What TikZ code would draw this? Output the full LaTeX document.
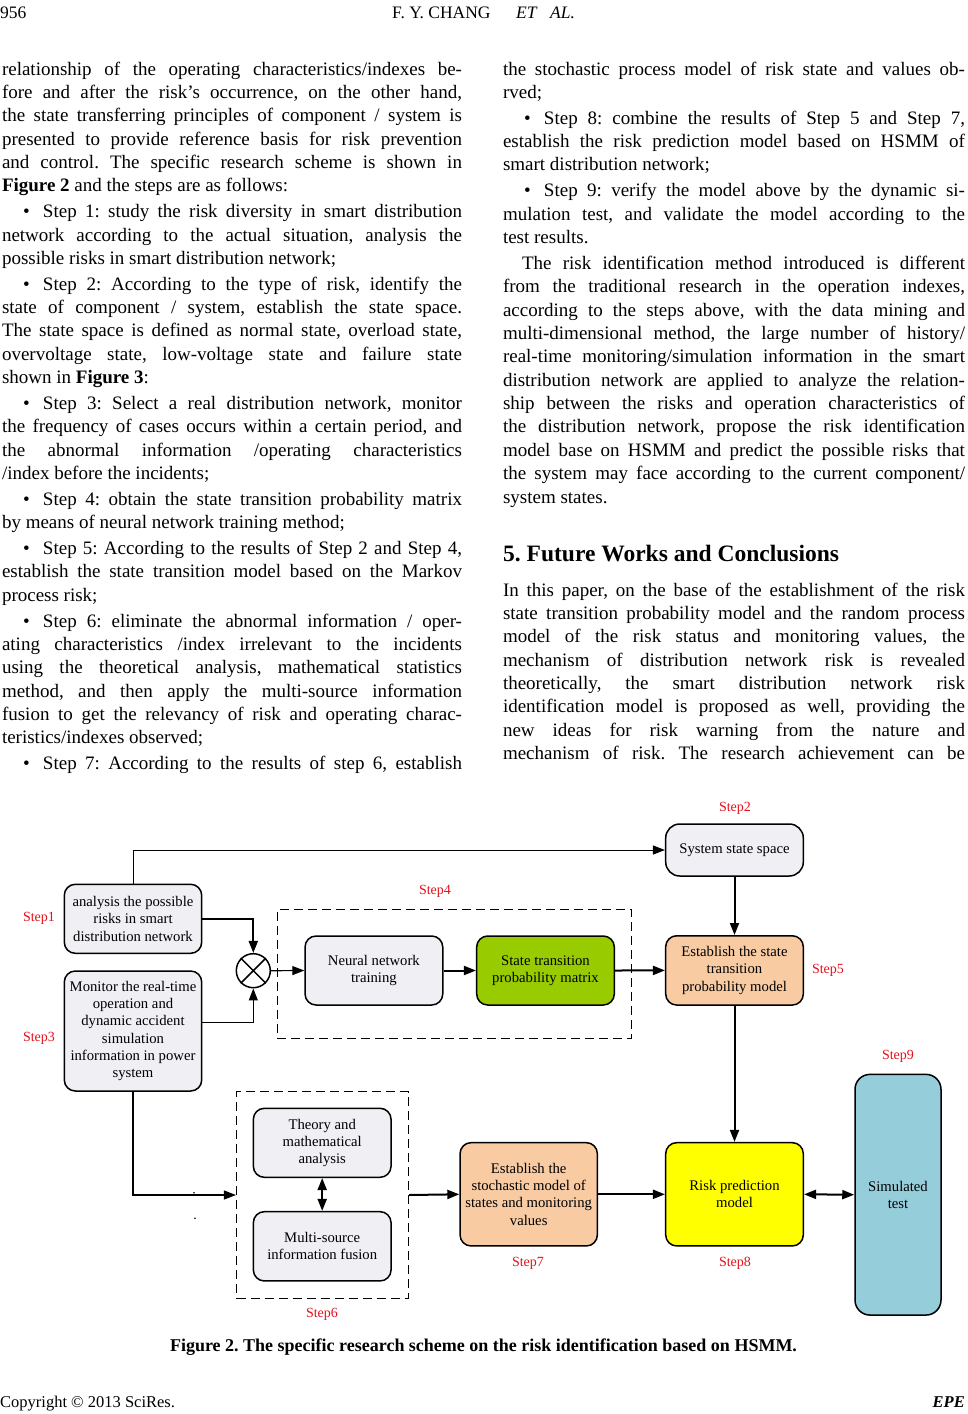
\documentclass[tikz,border=0pt]{standalone}
\usepackage{fontspec}
\setmainfont{Liberation Serif}
\usetikzlibrary{arrows.meta}
\definecolor{boxgray}{HTML}{EFEFF4}
\definecolor{peach}{HTML}{F8CBA3}
\definecolor{lime}{HTML}{99CC00}
\definecolor{yel}{HTML}{FFFF00}
\definecolor{skyb}{HTML}{96CDDB}
\definecolor{stepred}{HTML}{E3121C}
\frenchspacing
\newcounter{tl}
\newcommand\bodyfont{\fontsize{19}{22}\selectfont}
\newcommand\boxfont{\fontsize{14.7}{17.3}\selectfont}
% justified line: x, y, width, text
\newcommand\TJ[4]{\stepcounter{tl}\node[txt] (t\arabic{tl}) at (#1,#2) {\hbox to #3pt{#4}};}
% bullet line (justified)
\newcommand\TB[4]{\stepcounter{tl}\node[txt] (t\arabic{tl}) at (#1,#2) {\hbox to #3pt{\hbox to 41pt{\hskip 21pt\textbullet\hss}#4}};}
% indented justified line
\newcommand\TI[4]{\stepcounter{tl}\node[txt] (t\arabic{tl}) at (#1,#2) {\hbox to #3pt{\hskip 19pt #4}};}
% last (natural width) line: x, y, text
\newcommand\TL[3]{\stepcounter{tl}\node[txt] (t\arabic{tl}) at (#1,#2) {#3};}
\begin{document}
\begin{tikzpicture}[x=1pt,y=-1pt,
  txt/.style={anchor=base west,inner sep=0,outer sep=0,font=\bodyfont},
  bx/.style={draw,line width=1.5pt,rounded corners=11pt,align=center,font=\boxfont,inner sep=2pt},
  steplab/.style={text=stepred,font=\fontsize{14}{16}\selectfont,inner sep=0},
  dbox/.style={draw,line width=1.5pt,dash pattern=on 9pt off 5pt,inner sep=0},
  thk/.style={line width=2pt,-{Triangle[length=12pt,width=9pt]}},
  thn/.style={line width=1.2pt,-{Triangle[length=12pt,width=9pt]}},
  dbl/.style={line width=2pt,{Triangle[length=12pt,width=9pt]}-{Triangle[length=12pt,width=9pt]}}
]
\useasboundingbox (0,0) rectangle (967,1414);
\fill[white] (0,0) rectangle (967,1414);

% ---------- header ----------
\node[anchor=base west,inner sep=0,font=\fontsize{17.5}{20}\selectfont] (pg) at (0,18) {956};
\node[anchor=base west,inner sep=0,font=\fontsize{17.5}{20}\selectfont] (au) at (392,18) {F. Y. CHANG};
\node[anchor=base west,inner sep=0,font=\fontsize{17.5}{20}\selectfont\itshape] (et) at (516,18) {ET};
\node[anchor=base west,inner sep=0,font=\fontsize{17.5}{20}\selectfont\itshape] (al) at (550,18) {AL.};

% ---------- left column ----------
\TJ{2}{75}{460}{relationship of the operating characteristics/indexes be-}
\TJ{2}{98.4}{460}{fore and after the risk’s occurrence, on the other hand,}
\TJ{2}{121.7}{460}{the state transferring principles of component / system is}
\TJ{2}{145.1}{460}{presented to provide reference basis for risk prevention}
\TJ{2}{168.4}{460}{and control. The specific research scheme is shown in}
\TL{2}{191.8}{\textbf{Figure 2} and the steps are as follows:}
\TB{2}{217.6}{460}{Step 1: study the risk diversity in smart distribution}
\TJ{2}{241}{460}{network according to the actual situation, analysis the}
\TL{2}{264.3}{possible risks in smart distribution network;}
\TB{2}{290.2}{460}{Step 2: According to the type of risk, identify the}
\TJ{2}{313.5}{460}{state of component / system, establish the state space.}
\TJ{2}{336.9}{460}{The state space is defined as normal state, overload state,}
\TJ{2}{360.2}{460}{overvoltage state, low-voltage state and failure state}
\TL{2}{383.6}{shown in \textbf{Figure 3}:}
\TB{2}{409.4}{460}{Step 3: Select a real distribution network, monitor}
\TJ{2}{432.8}{460}{the frequency of cases occurs within a certain period, and}
\TJ{2}{456.1}{460}{the abnormal information /operating characteristics}
\TL{2}{479.5}{/index before the incidents;}
\TB{2}{505.3}{460}{Step 4: obtain the state transition probability matrix}
\TL{2}{528.7}{by means of neural network training method;}
\TB{2}{554.5}{460}{Step 5: According to the results of Step 2 and Step 4,}
\TJ{2}{577.9}{460}{establish the state transition model based on the Markov}
\TL{2}{601.2}{process risk;}
\TB{2}{627.1}{460}{Step 6: eliminate the abnormal information / oper-}
\TJ{2}{650.4}{460}{ating characteristics /index irrelevant to the incidents}
\TJ{2}{673.8}{460}{using the theoretical analysis, mathematical statistics}
\TJ{2}{697.1}{460}{method, and then apply the multi-source information}
\TJ{2}{720.5}{460}{fusion to get the relevancy of risk and operating charac-}
\TL{2}{743.8}{teristics/indexes observed;}
\TB{2}{769.7}{460}{Step 7: According to the results of step 6, establish}

% ---------- right column ----------
\TJ{503}{75}{462}{the stochastic process model of risk state and values ob-}
\TL{503}{98.4}{rved;}
\TB{503}{124.2}{462}{Step 8: combine the results of Step 5 and Step 7,}
\TJ{503}{147.6}{462}{establish the risk prediction model based on HSMM of}
\TL{503}{170.9}{smart distribution network;}
\TB{503}{196.8}{462}{Step 9: verify the model above by the dynamic si-}
\TJ{503}{220.1}{462}{mulation test, and validate the model according to the}
\TL{503}{243.5}{test results.}
\TI{503}{269.3}{462}{The risk identification method introduced is different}
\TJ{503}{292.7}{462}{from the traditional research in the operation indexes,}
\TJ{503}{316}{462}{according to the steps above, with the data mining and}
\TJ{503}{339.4}{462}{multi-dimensional method, the large number of history/}
\TJ{503}{362.7}{462}{real-time monitoring/simulation information in the smart}
\TJ{503}{386.1}{462}{distribution network are applied to analyze the relation-}
\TJ{503}{409.4}{462}{ship between the risks and operation characteristics of}
\TJ{503}{432.8}{462}{the distribution network, propose the risk identification}
\TJ{503}{456.1}{462}{model base on HSMM and predict the possible risks that}
\TJ{503}{479.5}{462}{the system may face according to the current component/}
\TL{503}{503}{system states.}
\node[anchor=base west,inner sep=0,font=\fontsize{23.5}{27}\selectfont\bfseries] (sec5) at (503,561) {5. Future Works and Conclusions};
\TJ{503}{596}{462}{In this paper, on the base of the establishment of the risk}
\TJ{503}{619.4}{462}{state transition probability model and the random process}
\TJ{503}{642.7}{462}{model of the risk status and monitoring values, the}
\TJ{503}{666.1}{462}{mechanism of distribution network risk is revealed}
\TJ{503}{689.4}{462}{theoretically, the smart distribution network risk}
\TJ{503}{712.8}{462}{identification model is proposed as well, providing the}
\TJ{503}{736.1}{462}{new ideas for risk warning from the nature and}
\TJ{503}{759.5}{462}{mechanism of risk. The research achievement can be}

% ---------- diagram ----------
\node[dbox,minimum width=354.4pt,minimum height=129pt] (g4) at (454.5,973.8) {};
\node[dbox,minimum width=171.6pt,minimum height=206.6pt] (g6) at (322.5,1195) {};

\node[bx,fill=boxgray,minimum width=137.4pt,minimum height=69pt] (b1) at (133,918.8)
  {analysis the possible\\risks in smart\\distribution network};
\node[bx,fill=boxgray,minimum width=137.4pt,minimum height=120pt] (b3) at (133,1031)
  {Monitor the real-time\\operation and\\dynamic accident\\simulation\\information in power\\system};
\node[draw,circle,line width=1.5pt,minimum size=34pt,inner sep=0,fill=white] (mix) at (253.3,970.7) {};
\draw[line width=1.5pt] (mix.north west) -- (mix.south east) (mix.north east) -- (mix.south west);
\node[bx,fill=boxgray,minimum width=137.7pt,minimum height=69pt] (nn) at (373.9,970.5)
  {Neural network\\training};
\node[bx,fill=lime,minimum width=137.6pt,minimum height=69pt] (stpm) at (545.5,970.5)
  {State transition\\probability matrix};
\node[bx,fill=boxgray,rounded corners=14pt,minimum width=137.6pt,minimum height=52pt] (sss) at (734.5,850)
  {System state space};
\node[bx,fill=peach,minimum width=137.6pt,minimum height=69.3pt] (est5) at (734.5,970.4)
  {Establish the state\\transition\\probability model};
\node[bx,fill=skyb,rounded corners=15pt,minimum width=86pt,minimum height=240.7pt] (sim) at (898,1194.7)
  {Simulated\\test};
\node[bx,fill=boxgray,minimum width=137.7pt,minimum height=69pt] (thy) at (322.2,1142.8)
  {Theory and\\mathematical\\analysis};
\node[bx,fill=boxgray,minimum width=137.7pt,minimum height=69.3pt] (msf) at (322.2,1246.3)
  {Multi-source\\information fusion};
\node[bx,fill=peach,minimum width=137.3pt,minimum height=103.3pt] (est7) at (528.7,1194.3)
  {Establish the\\stochastic model of\\states and monitoring\\values};
\node[bx,fill=yel,minimum width=137.6pt,minimum height=103.3pt] (risk) at (734.5,1194.3)
  {Risk prediction\\model};

% step labels
\node[steplab] (s1) at (39,918) {Step1};
\node[steplab] (s3) at (39,1038) {Step3};
\node[steplab] (s4) at (435,891) {Step4};
\node[steplab] (s2) at (735,808) {Step2};
\node[steplab] (s5) at (828,970) {Step5};
\node[steplab] (s9) at (898,1056) {Step9};
\node[steplab] (s6) at (322,1314) {Step6};
\node[steplab] (s7) at (528,1263) {Step7};
\node[steplab] (s8) at (735,1263) {Step8};

% connectors
\draw[thn,line width=1pt] (b1.north) |- (sss.west);
\draw[thk] (b1.east) -| (mix.north);
\draw[thn] ([yshift=8.3pt]b3.east) -| (mix.south);
\draw[thn] (mix.east) -- (nn.west);
\draw[thk] (nn.east) -- (stpm.west);
\draw[thk] (stpm.east) -- (est5.west);
\draw[thk] (sss.south) -- (est5.north);
\draw[thk] (est5.south) -- (risk.north);
\draw[thn] (b3.south) |- (g6.west);
\draw[thk] (g6.east) -- (est7.west);
\draw[thk] (est7.east) -- (risk.west);
\draw[dbl] (risk.east) -- (sim.west);
\draw[dbl] (thy.south) -- (msf.north);
\fill (194,1192.7) circle (0.9pt) (195,1218.3) circle (0.9pt);

% caption & footer
\node[inner sep=0,font=\fontsize{18}{21}\selectfont\bfseries] (cap) at (483.5,1347)
  {Figure 2. The specific research scheme on the risk identification based on HSMM.};
\node[anchor=base west,inner sep=0,font=\fontsize{16.5}{20}\selectfont] (copy) at (0,1407) {Copyright © 2013 SciRes.};
\node[anchor=base east,inner sep=0,font=\fontsize{16.5}{20}\selectfont\bfseries\itshape] (epe) at (965,1407) {EPE};
\end{tikzpicture}
\end{document}
